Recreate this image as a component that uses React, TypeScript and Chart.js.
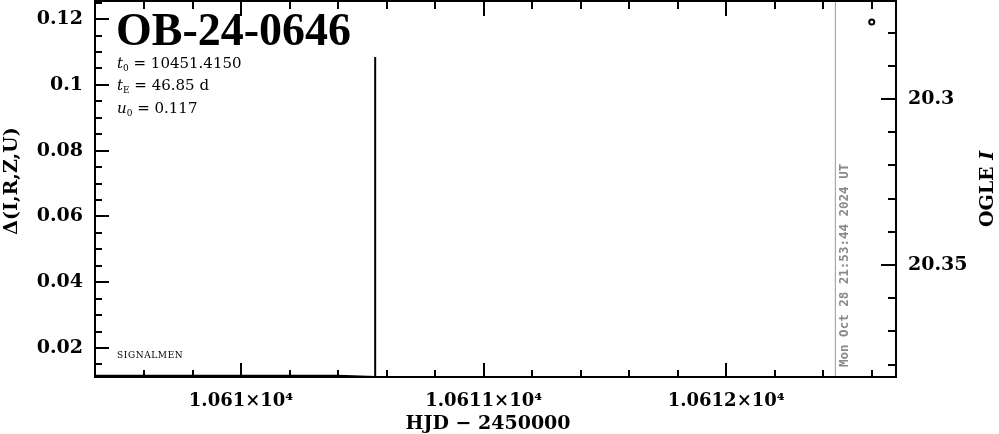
import React, { useEffect, useRef } from 'react';
import { Chart, registerables } from 'chart.js';

Chart.register(...registerables);

// ---------- text ----------
const eventName = 'OB-24-0646';
const paramSymbols = ['t', 't', 'u'];
const paramSubscripts = ['0', 'E', '0'];
const paramValues = [' = 10451.4150', ' = 46.85 d', ' = 0.117'];
const timestampLabel = 'Mon Oct 28 21:53:44 2024 UT';
const creditLabel = 'SIGNALMEN';
const xTitle = 'HJD \u2212 2450000';
const yLeftTitle = '\u0394(I,R,Z,U)';
const yRightTitleMain = 'OGLE ';
const yRightTitleItalic = 'I';

// ---------- axes ----------
const xRange = [10609.398, 10612.70];
const yLeftRange = [0.0112, 0.1255];
const yRightRange = [20.2705, 20.3837];

const xTickValues = [10610, 10611, 10612];
const xTickLabels = ['1.061\u00d710\u2074', '1.0611\u00d710\u2074', '1.0612\u00d710\u2074'];
const yLeftTickValues = [0.02, 0.04, 0.06, 0.08, 0.1, 0.12];
const yLeftTickLabels = ['0.02', '0.04', '0.06', '0.08', '0.1', '0.12'];
const yRightTickValues = [20.3, 20.35];
const yRightTickLabels = ['20.3', '20.35'];
const xMinorStep = 0.2;
const yLeftMinorStep = 0.005;
const yRightMinorStep = 0.01;

// ---------- data ----------
const ogleHjd = [10612.60];
const ogleMag = [20.2768];

const baseHjd = [10609.3, 10610.40, 10610.553, 10611.47];
const baseDelta = [0.01165, 0.01165, 0.0113, 0.0113];

const spikeHjd = [10610.553, 10610.553];
const spikeDelta = [0.0112, 0.1085];

const nowHjd = [10612.45, 10612.45];
const nowDelta = [0.0112, 0.1255];

function ticksBetween(min: number, max: number, step: number) {
  const out: number[] = [];
  const k0 = Math.ceil(min / step - 1e-9);
  const k1 = Math.floor(max / step + 1e-9);
  for (let k = k0; k <= k1; k++) out.push(+(k * step).toFixed(6));
  return out;
}

function isMajor(v: number, majors: number[]) {
  return majors.some((m) => Math.abs(m - v) < 1e-6);
}

const framePlugin = {
  id: 'framePlugin',
  afterDraw(chart: any) {
    const { ctx, chartArea: a, scales } = chart;
    const x = scales.x, y = scales.y, y2 = scales.y2;
    ctx.save();
    ctx.strokeStyle = '#000';
    ctx.lineWidth = 2;
    ctx.strokeRect(a.left, a.top, a.right - a.left, a.bottom - a.top);
    ctx.beginPath();
    // x ticks bottom & top
    const xMajors = ticksBetween(xRange[0], xRange[1], 1);
    ticksBetween(xRange[0], xRange[1], xMinorStep).forEach((v) => {
      const px = Math.round(x.getPixelForValue(v));
      const major = isMajor(v, xMajors);
      const lb = major ? 14 : 7;
      const lt = major ? 15 : 8;
      ctx.moveTo(px, a.bottom);
      ctx.lineTo(px, a.bottom - lb);
      ctx.moveTo(px, a.top);
      ctx.lineTo(px, a.top + lt);
    });
    // left ticks
    ticksBetween(yLeftRange[0], yLeftRange[1], yLeftMinorStep).forEach((v) => {
      const py = Math.round(y.getPixelForValue(v));
      const len = isMajor(v, yLeftTickValues) ? 14 : 7;
      ctx.moveTo(a.left, py);
      ctx.lineTo(a.left + len, py);
    });
    // right ticks
    ticksBetween(yRightRange[0], yRightRange[1], yRightMinorStep).forEach((v) => {
      const py = Math.round(y2.getPixelForValue(v));
      const len = isMajor(v, yRightTickValues) ? 15 : 8;
      ctx.moveTo(a.right, py);
      ctx.lineTo(a.right - len, py);
    });
    ctx.stroke();

    // event name
    ctx.fillStyle = '#000';
    ctx.textBaseline = 'alphabetic';
    ctx.textAlign = 'left';
    ctx.font = 'bold 46px "Liberation Serif"';
    ctx.fillText(eventName, 116, 45);

    // parameters
    const baselines = [68, 90, 113];
    for (let i = 0; i < paramSymbols.length; i++) {
      let cx = 117;
      const by = baselines[i];
      ctx.font = 'italic 15px "DejaVu Serif"';
      ctx.fillText(paramSymbols[i], cx, by);
      cx += ctx.measureText(paramSymbols[i]).width;
      ctx.font = '9px "DejaVu Serif"';
      ctx.fillText(paramSubscripts[i], cx, by + 3);
      cx += ctx.measureText(paramSubscripts[i]).width;
      ctx.font = '15px "DejaVu Serif"';
      ctx.fillText(paramValues[i], cx, by);
    }

    // credit
    ctx.font = '9px "DejaVu Serif"';
    (ctx as any).letterSpacing = '0.6px';
    ctx.fillText(creditLabel, 117, 358);
    (ctx as any).letterSpacing = '0px';

    // timestamp (rotated)
    const nx = x.getPixelForValue(nowHjd[0]);
    ctx.save();
    ctx.translate(nx + 9, a.bottom - 10);
    ctx.rotate(-Math.PI / 2);
    ctx.fillStyle = '#8a8a8a';
    ctx.font = 'bold 12.5px "DejaVu Sans Mono"';
    ctx.textBaseline = 'middle';
    ctx.textAlign = 'left';
    ctx.fillText(timestampLabel, 0, 0);
    ctx.restore();

    // axis titles
    ctx.fillStyle = '#000';
    ctx.font = 'bold 19px "DejaVu Serif"';
    ctx.textAlign = 'center';
    ctx.textBaseline = 'middle';
    ctx.fillText(xTitle, 488, 424);

    ctx.save();
    ctx.translate(12, 181);
    ctx.rotate(-Math.PI / 2);
    ctx.fillText(yLeftTitle, 0, 0);
    ctx.restore();

    ctx.save();
    ctx.translate(988, 189);
    ctx.rotate(-Math.PI / 2);
    ctx.font = 'bold 19px "DejaVu Serif"';
    const w1 = ctx.measureText(yRightTitleMain).width;
    ctx.font = 'bold italic 19px "DejaVu Serif"';
    const w2 = ctx.measureText(yRightTitleItalic).width;
    ctx.textAlign = 'left';
    ctx.font = 'bold 19px "DejaVu Serif"';
    ctx.fillText(yRightTitleMain, -(w1 + w2) / 2, 0);
    ctx.font = 'bold italic 19px "DejaVu Serif"';
    ctx.fillText(yRightTitleItalic, -(w1 + w2) / 2 + w1, 0);
    ctx.restore();

    ctx.restore();
  },
};

function fitNoPad(s: any) {
  s.paddingTop = 0;
  s.paddingBottom = 0;
  s.paddingLeft = 0;
  s.paddingRight = 0;
}

export default function App() {
  const ref = useRef<HTMLCanvasElement | null>(null);
  useEffect(() => {
    if (!ref.current) return;
    const labelFontY = { family: 'DejaVu Serif', weight: 'bold' as const, size: 19 };
    const labelFontX = { family: 'DejaVu Serif', weight: 'bold' as const, size: 18 };
    const chart = new Chart(ref.current, {
      type: 'scatter',
      data: {
        datasets: [
          {
            label: 'model',
            data: baseHjd.map((h, i) => ({ x: h, y: baseDelta[i] })),
            showLine: true,
            borderColor: '#000',
            borderWidth: 1.5,
            pointRadius: 0,
            yAxisID: 'y',
          },
          {
            label: 'spike',
            data: spikeHjd.map((h, i) => ({ x: h, y: spikeDelta[i] })),
            showLine: true,
            borderColor: '#000',
            borderWidth: 2,
            pointRadius: 0,
            yAxisID: 'y',
          },
          {
            label: 'now',
            data: nowHjd.map((h, i) => ({ x: h, y: nowDelta[i] })),
            showLine: true,
            borderColor: '#999',
            borderWidth: 1,
            pointRadius: 0,
            yAxisID: 'y',
          },
          {
            label: 'OGLE',
            data: ogleHjd.map((h, i) => ({ x: h, y: ogleMag[i] })),
            showLine: false,
            borderColor: '#000',
            backgroundColor: '#fff',
            borderWidth: 2,
            pointRadius: 2.5,
            yAxisID: 'y2',
          },
        ],
      },
      options: {
        responsive: false,
        animation: false,
        events: [],
        layout: { autoPadding: false, padding: { top: 1, left: 0, right: 0, bottom: 0 } },
        plugins: { legend: { display: false }, tooltip: { enabled: false }, title: { display: false } },
        scales: {
          x: {
            type: 'linear',
            position: 'bottom',
            min: xRange[0],
            max: xRange[1],
            grid: { display: false, drawTicks: false },
            border: { display: false },
            afterBuildTicks: (s: any) => { s.ticks = xTickValues.map((v) => ({ value: v })); },
            afterFit: (s: any) => { s.height = 57; fitNoPad(s); },
            ticks: {
              color: '#000',
              font: labelFontX,
              padding: 14,
              maxRotation: 0,
              autoSkip: false,
              callback: (v: any) => xTickLabels[xTickValues.findIndex((t) => Math.abs(t - v) < 1e-6)] ?? '',
            },
          },
          y: {
            type: 'linear',
            position: 'left',
            min: yLeftRange[0],
            max: yLeftRange[1],
            grid: { display: false, drawTicks: false },
            border: { display: false },
            afterBuildTicks: (s: any) => { s.ticks = yLeftTickValues.map((v) => ({ value: v })); },
            afterFit: (s: any) => { s.width = 95; fitNoPad(s); },
            ticks: {
              color: '#000',
              font: labelFontY,
              padding: 12,
              autoSkip: false,
              callback: (v: any) => yLeftTickLabels[yLeftTickValues.findIndex((t) => Math.abs(t - v) < 1e-6)] ?? '',
            },
          },
          y2: {
            type: 'linear',
            position: 'right',
            reverse: true,
            min: yRightRange[0],
            max: yRightRange[1],
            grid: { display: false, drawTicks: false },
            border: { display: false },
            afterBuildTicks: (s: any) => { s.ticks = yRightTickValues.map((v) => ({ value: v })); },
            afterFit: (s: any) => { s.width = 103; fitNoPad(s); },
            ticks: {
              color: '#000',
              font: labelFontY,
              padding: 12,
              autoSkip: false,
              callback: (v: any) => yRightTickLabels[yRightTickValues.findIndex((t) => Math.abs(t - v) < 1e-6)] ?? '',
            },
          },
        },
      },
      plugins: [framePlugin],
    });
    return () => chart.destroy();
  }, []);

  return (
    <div style={{ position: 'absolute', left: 0, top: 0, width: 999, height: 434, background: '#fff' }}>
      <canvas ref={ref} width={999} height={434} style={{ display: 'block', width: 999, height: 434 }} />
    </div>
  );
}
